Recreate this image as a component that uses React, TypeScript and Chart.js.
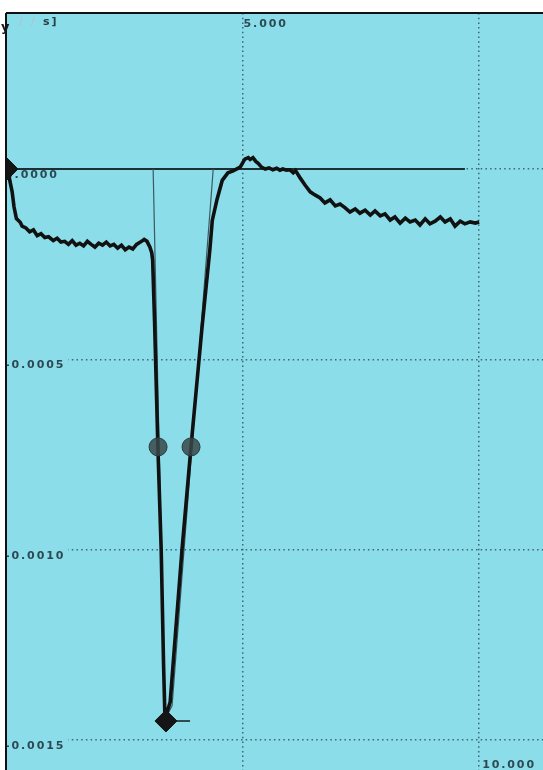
import React, { useEffect, useRef } from "react";
import { Chart, registerables } from "chart.js";

Chart.register(...registerables);

// Main measured trace (x in s, y in units)
const traceX = [
  0.04, 0.08, 0.13, 0.17, 0.22, 0.3, 0.34, 0.42, 0.5, 0.58, 0.66, 0.74, 0.82, 0.9, 1.0, 1.08, 1.16, 1.24, 1.32, 1.4,
  1.48, 1.56, 1.64, 1.72, 1.8, 1.88, 1.96, 2.04, 2.12, 2.2, 2.28, 2.36, 2.44, 2.52, 2.6, 2.68, 2.76, 2.84, 2.92, 2.98,
  3.04, 3.08, 3.1, 3.14, 3.21, 3.28, 3.33, 3.36, 3.47, 3.72, 3.91, 4.14, 4.31, 4.36, 4.46, 4.57, 4.69, 4.8, 4.95, 5.02,
  5.05, 5.12, 5.16, 5.22, 5.28, 5.33, 5.4, 5.48, 5.56, 5.64, 5.72, 5.79, 5.85, 5.93, 6.0, 6.07, 6.12, 6.22, 6.32, 6.43,
  6.53, 6.64, 6.74, 6.85, 6.96, 7.06, 7.17, 7.27, 7.38, 7.48, 7.59, 7.7, 7.8, 7.91, 8.01, 8.12, 8.22, 8.33, 8.44, 8.54,
  8.65, 8.75, 8.86, 8.96, 9.07, 9.18, 9.28, 9.39, 9.49, 9.6, 9.7, 9.81, 9.92, 10.0,
];
const traceY = [
  0, -0.00003, -0.00006, -0.0001, -0.00013, -0.00014, -0.00015, -0.000155, -0.000165, -0.00016, -0.000175, -0.00017,
  -0.00018, -0.000178, -0.000188, -0.000182, -0.000192, -0.00019, -0.000198, -0.000188, -0.0002, -0.000195, -0.000202,
  -0.00019, -0.000198, -0.000205, -0.000195, -0.0002, -0.000192, -0.000202, -0.000198, -0.000208, -0.0002, -0.000212,
  -0.000205, -0.00021, -0.000198, -0.000192, -0.000185, -0.00019, -0.000205, -0.00022, -0.00024, -0.0004, -0.00073,
  -0.001, -0.0013, -0.001445, -0.0014, -0.001, -0.00073, -0.00042, -0.00021, -0.000135, -0.00008, -0.00003, -0.00001,
  -0.000005, 0.000005, 0.00002, 0.000026, 0.00003, 0.000025, 0.00003, 0.00002, 0.000015, 0.000005, 0.0, 0.000003,
  -0.000002, 0.000002, -0.000003, 0.0, -0.000003, -0.000002, -0.00001, -0.000004, -0.000024, -0.000042, -0.00006,
  -0.000068, -0.000076, -0.000089, -0.000081, -0.000097, -0.000092, -0.000102, -0.000113, -0.000105, -0.000116,
  -0.000108, -0.000121, -0.00011, -0.000123, -0.000118, -0.000134, -0.000126, -0.000142, -0.000129, -0.000139,
  -0.000134, -0.000147, -0.000131, -0.000144, -0.000137, -0.000126, -0.000139, -0.000131, -0.00015, -0.000137,
  -0.000144, -0.000139, -0.000142, -0.000139,
];

// Thin fitted envelope
const fitX = [3.11, 3.36, 3.51, 4.38];
const fitY = [0, -0.001445, -0.00141, 0];

// Zero reference line
const zeroX = [0, 9.7];
const zeroY = [0, 0];

// Peak marker horizontal
const peakLineX = [3.38, 3.89];
const peakLineY = [-0.00145, -0.00145];

// Half-width circles
const circleX = [3.214, 3.911];
const circleY = [-0.00073, -0.00073];

// Diamonds (start, peak)
const diamondX = [0.0, 3.38];
const diamondY = [0, -0.00145];
const diamondR = [12, 11];

const xGrid = [5, 10];
const xTickLabels = ["5.000", "10.000"];
const yGrid = [0, -0.0005, -0.001, -0.0015];
const yTickLabels = ["0.0000", "-0.0005", "-0.0010", "-0.0015"];

const BG = "#8bdde9";
const TXT = "#2c4a54";

const pts = (xs: number[], ys: number[]) => xs.map((x, i) => ({ x, y: ys[i] }));

const framePlugin = {
  id: "frame",
  beforeDraw(chart: any) {
    const { ctx, chartArea: a } = chart;
    ctx.save();
    ctx.fillStyle = BG;
    ctx.fillRect(a.left, a.top, a.right - a.left, a.bottom - a.top);
    ctx.restore();
  },
  beforeDatasetsDraw(chart: any) {
    const { ctx, scales } = chart;
    const xs = scales.x;
    const ys = scales.y;
    ctx.save();
    ctx.font = "bold 11px 'DejaVu Sans'";
    (ctx as any).letterSpacing = "1.9px";
    ctx.textBaseline = "middle";
    ctx.textAlign = "left";
    yGrid.forEach((v, i) => {
      const py = ys.getPixelForValue(v);
      const t = yTickLabels[i];
      const w = ctx.measureText(t).width;
      if (i > 0) {
        ctx.fillStyle = BG;
        ctx.fillRect(7, py - 2, w + 1, 13);
      }
      ctx.fillStyle = TXT;
      ctx.fillText(t, 5, py + 6);
    });
    ctx.fillStyle = TXT;
    ctx.fillText(xTickLabels[0], xs.getPixelForValue(xGrid[0]) + 1, 24);
    ctx.fillText(xTickLabels[1], xs.getPixelForValue(xGrid[1]) + 3, 765);
    // axis title fragments
    ctx.fillStyle = "#a9c7cc";
    ctx.fillText("/ /", 19, 22);
    ctx.fillStyle = "#2a3e44";
    ctx.fillText("s]", 43, 22);
    ctx.restore();
  },
  afterDraw(chart: any) {
    const { ctx, chartArea: a } = chart;
    ctx.save();
    ctx.strokeStyle = "#111";
    ctx.lineWidth = 2;
    ctx.beginPath();
    ctx.moveTo(a.left, a.top);
    ctx.lineTo(a.right, a.top);
    ctx.moveTo(a.left, a.top);
    ctx.lineTo(a.left, a.bottom);
    ctx.stroke();
    ctx.fillStyle = "#1a1a1a";
    ctx.font = "bold 13px 'DejaVu Sans'";
    ctx.textBaseline = "middle";
    ctx.fillText("y", 1, 28);
    ctx.restore();
  },
};

export default function App() {
  const ref = useRef<HTMLCanvasElement | null>(null);
  useEffect(() => {
    if (!ref.current) return;
    const chart = new Chart(ref.current, {
      type: "scatter",
      data: {
        datasets: [
          {
            data: pts(diamondX, diamondY),
            pointStyle: "rectRot",
            pointRadius: diamondR,
            backgroundColor: "#151515",
            borderColor: "#151515",
            showLine: false,
            order: 0,
          } as any,
          {
            data: pts(circleX, circleY),
            pointStyle: "circle",
            pointRadius: 9,
            backgroundColor: "rgba(55,72,74,0.85)",
            borderColor: "#2b3a3c",
            borderWidth: 1,
            showLine: false,
            order: 0,
          },
          {
            data: pts(traceX, traceY),
            showLine: true,
            borderColor: "#111",
            borderWidth: 3.6,
            pointRadius: 0,
            order: 1,
          },
          {
            data: pts(peakLineX, peakLineY),
            showLine: true,
            borderColor: "#1c2628",
            borderWidth: 1.6,
            pointRadius: 0,
            order: 1,
          },
          {
            data: pts(fitX, fitY),
            showLine: true,
            borderColor: "#3b5a60",
            borderWidth: 1.2,
            pointRadius: 0,
            order: 2,
          },
          {
            data: pts(zeroX, zeroY),
            showLine: true,
            borderColor: "#1d2f34",
            borderWidth: 2,
            pointRadius: 0,
            order: 3,
          },
        ],
      },
      options: {
        animation: false,
        responsive: false,
        events: [],
        layout: { autoPadding: false, padding: { left: 6, top: 13, right: 0, bottom: 0 } },
        plugins: { legend: { display: false }, tooltip: { enabled: false } },
        scales: {
          x: {
            type: "linear",
            min: 0,
            max: 11.35,
            afterBuildTicks: (s: any) => {
              s.ticks = xGrid.map((v) => ({ value: v }));
            },
            ticks: { display: false },
            border: { display: false, dash: [1.5, 3.2] },
            grid: { drawTicks: false, color: "#3f6774", lineWidth: 1.5 },
          },
          y: {
            type: "linear",
            min: -0.0015787,
            max: 0.0004098,
            afterBuildTicks: (s: any) => {
              s.ticks = yGrid.map((v) => ({ value: v }));
            },
            ticks: { display: false },
            border: { display: false, dash: [1.5, 3.2] },
            grid: { drawTicks: false, color: "#3f6774", lineWidth: 1.5 },
          },
        },
      },
      plugins: [framePlugin],
    });
    return () => chart.destroy();
  }, []);
  return (
    <div style={{ position: "absolute", left: 0, top: 0, width: 543, height: 770, background: "#fff" }}>
      <canvas ref={ref} width={543} height={770} style={{ display: "block" }} />
    </div>
  );
}
